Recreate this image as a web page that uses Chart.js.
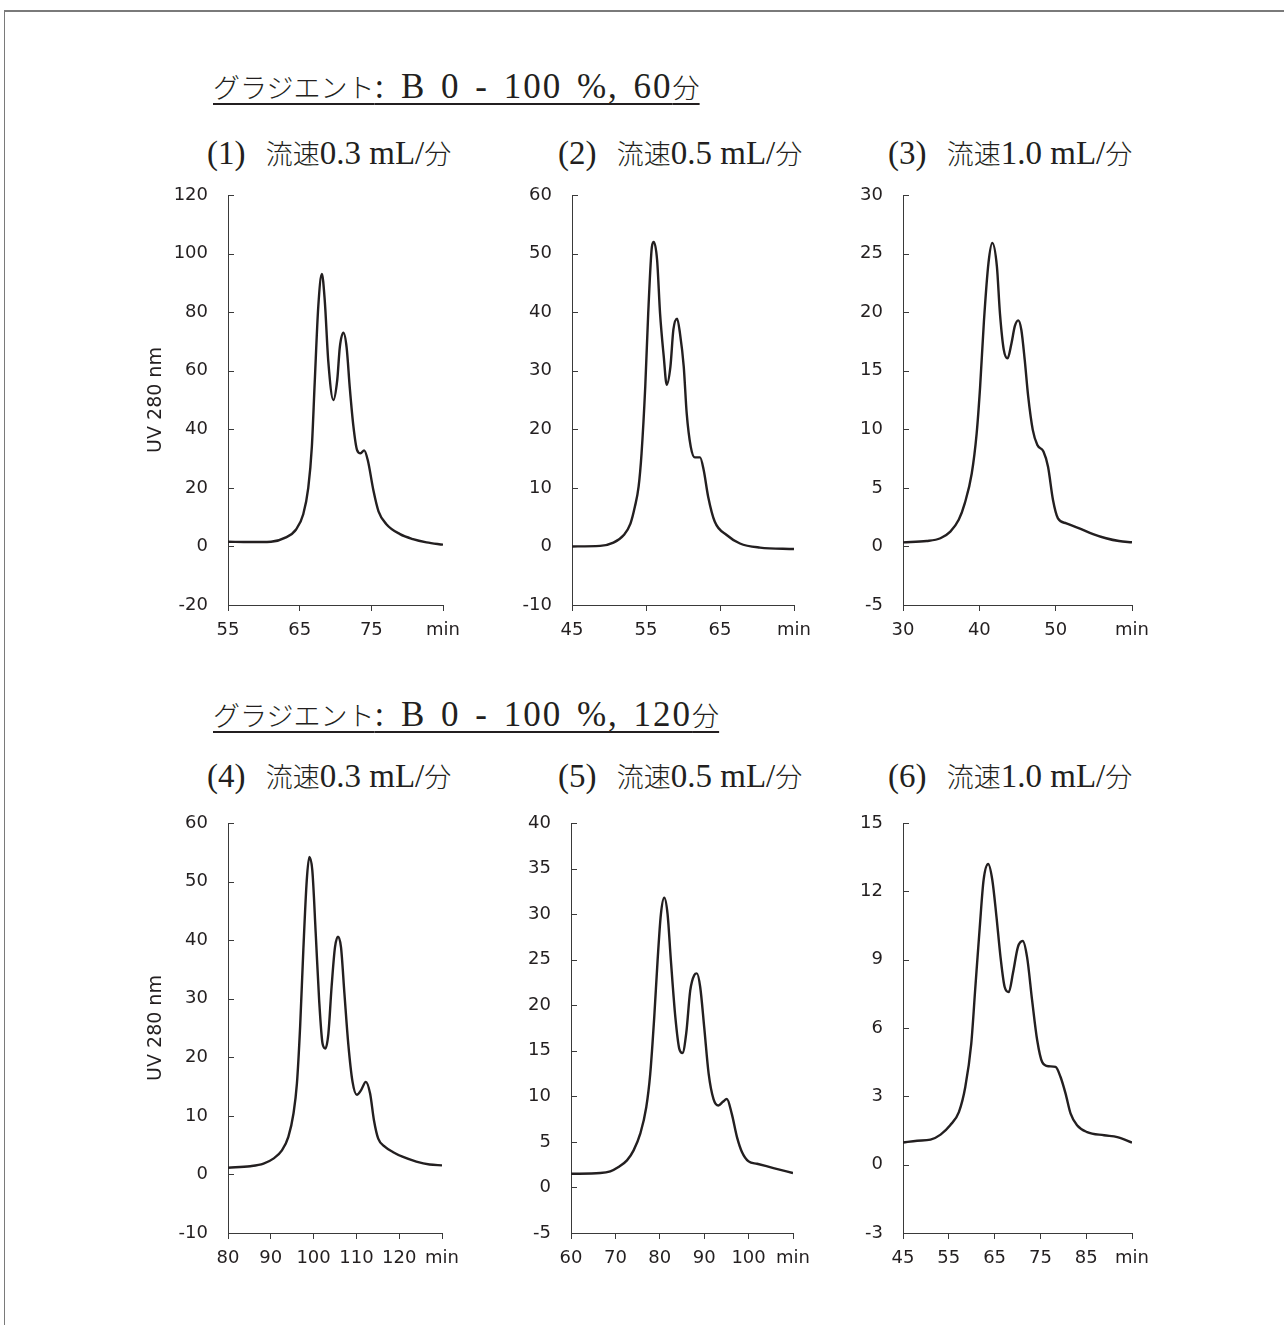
<!DOCTYPE html>
<html lang="ja">
<head>
<meta charset="utf-8">
<script src="https://cdn.jsdelivr.net/npm/chart.js@4.4.1/dist/chart.umd.min.js"></script>
<style>
  body { margin: 0; background: #fff; width: 1284px; height: 1325px; position: relative; overflow: hidden; }
  .frame { position: absolute; left: 4px; top: 10px; right: -2px; bottom: -2px; border-top: 2px solid #7a7a7a; border-left: 1px solid #7a7a7a; }
  .head { position: absolute; font-family: "Liberation Serif", "Noto Sans CJK JP", serif; color: #231f20; white-space: nowrap; line-height: 1; font-size: 33px; }
  .head .jp { font-family: "Noto Sans CJK JP", sans-serif; font-size: 27px; font-weight: 300; letter-spacing: 0; word-spacing: 0; }
  .head .no { margin-right: 12px; }
  .grad { font-size: 35px; letter-spacing: 2px; word-spacing: 4px; text-decoration: underline; text-underline-offset: 5px; text-decoration-thickness: 1.5px; }
  canvas { position: absolute; }
</style>
</head>
<body>
<div class="frame"></div>

<div class="head grad" style="left:213px; top:69px;"><span class="jp">グラジエント</span>: B 0 - 100 %, 60<span class="jp">分</span></div>
<div class="head" style="left:207px; top:137px;"><span class="no">(1)</span> <span class="jp">流速</span>0.3 mL/<span class="jp">分</span></div>
<div class="head" style="left:558px; top:137px;"><span class="no">(2)</span> <span class="jp">流速</span>0.5 mL/<span class="jp">分</span></div>
<div class="head" style="left:888px; top:137px;"><span class="no">(3)</span> <span class="jp">流速</span>1.0 mL/<span class="jp">分</span></div>

<div class="head grad" style="left:213px; top:697px;"><span class="jp">グラジエント</span>: B 0 - 100 %, 120<span class="jp">分</span></div>
<div class="head" style="left:207px; top:760px;"><span class="no">(4)</span> <span class="jp">流速</span>0.3 mL/<span class="jp">分</span></div>
<div class="head" style="left:558px; top:760px;"><span class="no">(5)</span> <span class="jp">流速</span>0.5 mL/<span class="jp">分</span></div>
<div class="head" style="left:888px; top:760px;"><span class="no">(6)</span> <span class="jp">流速</span>1.0 mL/<span class="jp">分</span></div>

<canvas id="c1"></canvas>
<canvas id="c2"></canvas>
<canvas id="c3"></canvas>
<canvas id="c4"></canvas>
<canvas id="c5"></canvas>
<canvas id="c6"></canvas>

<script>
// chromatograms, time in min / UV 280 nm absorbance

// (1) 60 min gradient, 0.3 mL/min
const time1 = [55, 58, 61, 63, 64.5, 65.5, 66.2, 66.7, 67.1, 67.6, 68.1, 68.5, 69.0, 69.7, 70.25, 70.6, 71.1, 71.55, 72.0, 72.5, 73.0, 73.5, 74.0, 74.5, 75.3, 76.0, 77.1, 79.0, 80.8, 82.7, 85];
const uv1   = [1.6, 1.5, 1.6, 3.0, 5.8, 11, 20, 34, 56, 82, 93, 84, 63, 50, 57, 68, 73, 68, 54, 41, 33, 31.8, 32.8, 29.5, 19, 12, 7.6, 4.2, 2.5, 1.4, 0.6];
const xTicks1 = [55, 65, 75, 85];
const yTicks1 = [-20, 0, 20, 40, 60, 80, 100, 120];

// (2) 60 min gradient, 0.5 mL/min
const time2 = [45, 48.8, 50.6, 52, 52.9, 53.5, 54.0, 54.4, 54.9, 55.3, 55.8, 56.05, 56.5, 56.9, 57.4, 57.8, 58.3, 58.7, 59.2, 59.6, 60.1, 60.5, 61.05, 61.6, 62.3, 62.8, 63.4, 64.3, 65.9, 67.7, 70.4, 75];
const uv2   = [0, 0.1, 0.65, 1.95, 3.9, 6.8, 10.2, 15.9, 27.3, 39.8, 51.2, 52, 48.9, 39.8, 32.4, 27.6, 30.7, 37, 38.9, 36.3, 30.7, 22.7, 17, 15.2, 15.2, 13, 8.5, 4.2, 1.95, 0.5, -0.2, -0.45];
const xTicks2 = [45, 55, 65, 75];
const yTicks2 = [-10, 0, 10, 20, 30, 40, 50, 60];

// (3) 60 min gradient, 1.0 mL/min
const time3 = [30, 33.1, 34.9, 36.2, 37.3, 38.1, 39.0, 39.65, 40.1, 40.6, 41.2, 41.7, 42.3, 42.7, 43.2, 43.7, 44.2, 44.65, 45.1, 45.5, 45.95, 46.4, 47.0, 47.6, 48.4, 49.0, 49.65, 50.3, 51.4, 53.1, 54.9, 56.6, 58.3, 60];
const uv3   = [0.35, 0.46, 0.7, 1.27, 2.27, 3.7, 6.2, 9.65, 13.6, 19.2, 24.2, 25.9, 23.9, 19.9, 16.8, 16.05, 17.3, 18.8, 19.3, 18.5, 15.9, 12.8, 9.95, 8.66, 8.1, 6.8, 3.97, 2.4, 1.97, 1.55, 1.06, 0.7, 0.46, 0.35];
const xTicks3 = [30, 40, 50, 60];
const yTicks3 = [-5, 0, 5, 10, 15, 20, 25, 30];

// (4) 120 min gradient, 0.3 mL/min
const time4 = [80, 85.2, 88.3, 90.6, 92.6, 94.1, 95.3, 96.1, 96.85, 97.6, 98.4, 99.0, 99.7, 100.5, 101.3, 102.1, 102.75, 103.45, 104.2, 105.0, 105.7, 106.4, 107.2, 108.1, 109.1, 110.1, 111.1, 112.2, 113.2, 114.1, 115.1, 116.7, 118.6, 120.9, 124, 127.1, 130];
const uv4   = [1.15, 1.4, 1.84, 2.7, 4.1, 6.4, 10.4, 15.5, 25.2, 38.3, 50.2, 54.2, 51.9, 41.1, 29.7, 22.3, 21.5, 24, 32, 38.8, 40.6, 38.8, 30.9, 22.3, 15.8, 13.6, 14.4, 15.8, 13.8, 9.25, 6.1, 4.7, 3.8, 2.98, 2.2, 1.7, 1.55];
const xTicks4 = [80, 90, 100, 110, 120, 130];
const yTicks4 = [-10, 0, 10, 20, 30, 40, 50, 60];

// (5) 120 min gradient, 0.5 mL/min
const time5 = [60, 66.6, 68.85, 70.7, 72.6, 74.1, 75.6, 76.95, 77.85, 78.75, 79.5, 80.25, 81.0, 81.75, 82.5, 83.5, 84.4, 85.1, 85.95, 86.85, 87.75, 88.35, 89.1, 90.0, 91.0, 92.1, 93.2, 94.2, 95.1, 96.2, 97.4, 98.5, 100, 101.9, 105.6, 110];
const uv5   = [1.5, 1.58, 1.77, 2.24, 2.97, 4.07, 5.9, 8.8, 12.5, 18.7, 24.9, 30, 31.8, 30, 24.9, 18.7, 15.2, 14.75, 16.9, 21.6, 23.3, 23.5, 22, 17.6, 12.5, 9.7, 9.0, 9.4, 9.7, 8.1, 5.5, 3.9, 2.86, 2.6, 2.13, 1.58];
const xTicks5 = [60, 70, 80, 90, 100, 110];
const yTicks5 = [-5, 0, 5, 10, 15, 20, 25, 30, 35, 40];

// (6) 120 min gradient, 1.0 mL/min
const time6 = [45, 48.1, 51.0, 53.2, 55.3, 57.2, 58.6, 59.9, 60.8, 61.75, 62.6, 63.6, 64.5, 65.4, 66.3, 67.2, 68.1, 69.0, 70.1, 71.15, 72.1, 73.2, 74.3, 75.4, 76.8, 78.3, 79.4, 80.5, 81.6, 83.0, 85.2, 88.9, 91.8, 95];
const uv6   = [0.97, 1.05, 1.1, 1.32, 1.73, 2.31, 3.41, 5.3, 7.8, 10.4, 12.5, 13.2, 12.5, 10.9, 9.1, 7.8, 7.58, 8.4, 9.56, 9.82, 9.1, 7.2, 5.46, 4.5, 4.32, 4.29, 3.85, 3.12, 2.24, 1.73, 1.43, 1.29, 1.21, 0.97];
const xTicks6 = [45, 55, 65, 75, 85, 95];
const yTicks6 = [-3, 0, 3, 6, 9, 12, 15];

const yTitle = 'UV 280 nm';
const xUnit = 'min';

const ink = '#231f20';
const axisColor = '#3a3a3a';
const sans = '"DejaVu Sans", "Liberation Sans", Arial, sans-serif';
const tickFont = { family: sans, size: 18 };

// where each panel sits: canvas left = axis x - 90, top = first tick - 20
const panels = [
  { id: 'c1', t: time1, v: uv1, xt: xTicks1, yt: yTicks1, left: 138, top: 175, plotW: 215, title: true },
  { id: 'c2', t: time2, v: uv2, xt: xTicks2, yt: yTicks2, left: 482, top: 175, plotW: 222, title: false },
  { id: 'c3', t: time3, v: uv3, xt: xTicks3, yt: yTicks3, left: 813, top: 175, plotW: 229, title: false },
  { id: 'c4', t: time4, v: uv4, xt: xTicks4, yt: yTicks4, left: 138, top: 803, plotW: 214, title: true },
  { id: 'c5', t: time5, v: uv5, xt: xTicks5, yt: yTicks5, left: 481, top: 803, plotW: 222, title: false },
  { id: 'c6', t: time6, v: uv6, xt: xTicks6, yt: yTicks6, left: 813, top: 803, plotW: 229, title: false }
];

const Y_W = 90, X_H = 50, PAD_T = 20, PAD_R = 40, PLOT_H = 410;

// short tick marks pointing into the plot on the value axis
const innerTicks = {
  id: 'innerTicks',
  beforeDatasetsDraw(chart) {
    const ctx = chart.ctx;
    const y = chart.scales.y;
    const x0 = chart.chartArea.left;
    ctx.save();
    ctx.strokeStyle = axisColor;
    ctx.lineWidth = 1;
    y.ticks.forEach((tk, i) => {
      const py = Math.round(y.getPixelForTick(i)) + 0.5;
      ctx.beginPath();
      ctx.moveTo(x0, py);
      ctx.lineTo(x0 + 6, py);
      ctx.stroke();
    });
    ctx.restore();
  }
};

panels.forEach(p => {
  const cv = document.getElementById(p.id);
  cv.width = Y_W + p.plotW + PAD_R;
  cv.height = PAD_T + PLOT_H + X_H;
  cv.style.left = p.left + 'px';
  cv.style.top = p.top + 'px';

  const xMin = p.xt[0], xMax = p.xt[p.xt.length - 1];
  const yMin = p.yt[0], yMax = p.yt[p.yt.length - 1];

  new Chart(cv, {
    type: 'line',
    data: {
      datasets: [{
        data: p.t.map((t, i) => ({ x: t, y: p.v[i] })),
        borderColor: ink,
        borderWidth: 2.4,
        pointRadius: 0,
        cubicInterpolationMode: 'monotone',
        fill: false
      }]
    },
    options: {
      responsive: false,
      animation: false,
      events: [],
      layout: { autoPadding: false, padding: { top: PAD_T, right: PAD_R, left: 0, bottom: 0 } },
      plugins: { legend: { display: false }, tooltip: { enabled: false } },
      scales: {
        x: {
          type: 'linear',
          min: xMin,
          max: xMax,
          afterFit(s) { s.height = X_H; s.paddingLeft = 0; s.paddingRight = 0; },
          afterBuildTicks(s) { s.ticks = p.xt.map(v => ({ value: v })); },
          ticks: {
            font: tickFont,
            color: ink,
            padding: 9,
            maxRotation: 0,
            autoSkip: false,
            callback: v => (v === xMax ? xUnit : v)
          },
          grid: { drawOnChartArea: false, drawTicks: true, tickLength: 6, color: axisColor },
          border: { color: axisColor, width: 1 }
        },
        y: {
          min: yMin,
          max: yMax,
          afterFit(s) { s.width = Y_W; s.paddingTop = 0; s.paddingBottom = 0; },
          afterBuildTicks(s) { s.ticks = p.yt.map(v => ({ value: v })); },
          ticks: { font: tickFont, color: ink, padding: 20, autoSkip: false },
          grid: { drawOnChartArea: false, drawTicks: false, color: axisColor },
          border: { color: axisColor, width: 1 },
          title: {
            display: p.title,
            text: yTitle,
            color: ink,
            font: { family: sans, size: 19 },
            padding: { top: 7, bottom: 0 }
          }
        }
      }
    },
    plugins: [innerTicks]
  });
});
</script>
</body>
</html>
